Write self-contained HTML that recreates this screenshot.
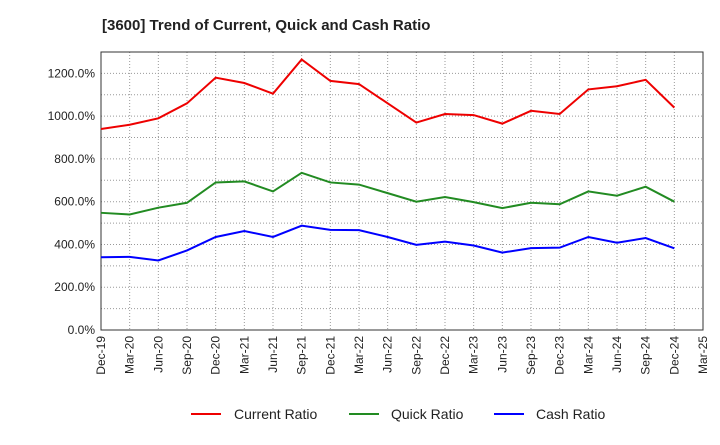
<!DOCTYPE html>
<html><head><meta charset="utf-8"><style>
body{margin:0;background:#fff;font-family:"Liberation Sans",sans-serif;}
svg text{font-family:"Liberation Sans",sans-serif;}
</style></head><body>
<svg id="chart" width="720" height="440" xmlns="http://www.w3.org/2000/svg">
<text x="102" y="30" font-size="15" font-weight="bold" fill="#222">[3600]  Trend of Current, Quick and Cash Ratio</text>
<g id="grid"></g><g id="axes"></g><g id="series"></g>
<g>
<line x1="191" y1="414" x2="221" y2="414" stroke="#e00" stroke-width="2"/>
<text x="234" y="419" font-size="14" fill="#222">Current Ratio</text>
<line x1="349" y1="414" x2="379" y2="414" stroke="#228b22" stroke-width="2"/>
<text x="391" y="419" font-size="14" fill="#222">Quick Ratio</text>
<line x1="494" y1="414" x2="524" y2="414" stroke="#00f" stroke-width="2"/>
<text x="536" y="419" font-size="14" fill="#222">Cash Ratio</text>
</g>
</svg>
<script>
const categories=["Dec-19","Mar-20","Jun-20","Sep-20","Dec-20","Mar-21","Jun-21","Sep-21","Dec-21","Mar-22","Jun-22","Sep-22","Dec-22","Mar-23","Jun-23","Sep-23","Dec-23","Mar-24","Jun-24","Sep-24","Dec-24","Mar-25"];
const currentRatio=[940,960,990,1060,1180,1155,1105,1265,1165,1150,1060,970,1010,1005,965,1025,1010,1125,1140,1170,1040];
const quickRatio=[548,540,572,595,690,695,648,735,690,680,640,600,622,598,570,595,588,648,628,670,600];
const cashRatio=[340,342,325,372,435,463,435,488,468,467,435,398,413,395,362,383,385,435,408,430,382];
const yTicks=[0,200,400,600,800,1000,1200];
const NS="http://www.w3.org/2000/svg";
const L=101,R=703,T=52,B=330,YMAX=1300;
const x=i=>L+i*(R-L)/(categories.length-1);
const y=v=>B-v/YMAX*(B-T);
function mk(tag,attrs,parent){const e=document.createElementNS(NS,tag);for(const k in attrs)e.setAttribute(k,attrs[k]);document.getElementById(parent).appendChild(e);return e;}
for(let v=100;v<YMAX;v+=100){const g=mk('line',{x1:L,x2:R,y1:y(v),y2:y(v),stroke:'#999','stroke-dasharray':'1,2','stroke-width':1},'grid');

}
categories.forEach((c,i)=>{const g=mk('line',{x1:x(i),x2:x(i),y1:T,y2:B,stroke:'#999','stroke-dasharray':'1,2','stroke-width':1},'grid');


const t=mk('text',{x:0,y:0,'font-size':12,fill:'#222','text-anchor':'end',transform:`translate(${x(i)+4},${B+6}) rotate(-90)`},'axes');
t.textContent=c;

});
yTicks.forEach(v=>{const t=mk('text',{x:L-6,y:y(v)+4,'font-size':12,fill:'#222','text-anchor':'end'},'axes');
t.textContent=v.toFixed(1)+'%';

});
const fr=mk('rect',{x:L,y:T,width:R-L,height:B-T,fill:'none',stroke:'#333','stroke-width':1},'axes');


[[currentRatio,'#e00','current-ratio-line'],[quickRatio,'#228b22','quick-ratio-line'],[cashRatio,'#00f','cash-ratio-line']].forEach(([d,c,n])=>{
const p=mk('polyline',{points:d.map((v,i)=>x(i)+','+y(v)).join(' '),fill:'none',stroke:c,'stroke-width':2},'series');

});
</script>
</body></html>
